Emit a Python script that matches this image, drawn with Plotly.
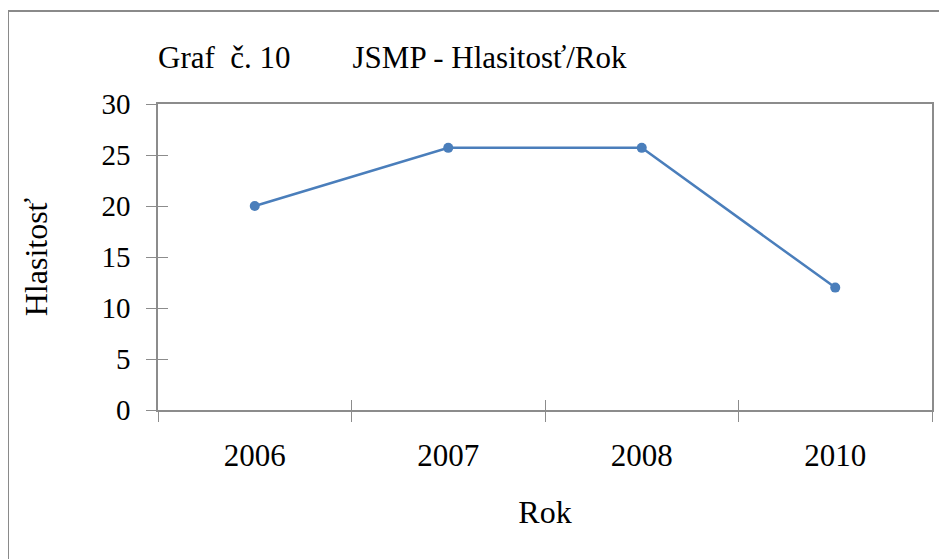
import plotly.graph_objects as go

years = ["2006", "2007", "2008", "2010"]
hlasitost = [20, 25.7, 25.7, 12]
y_ticks = [0, 5, 10, 15, 20, 25, 30]

FONT = "Liberation Serif, Times New Roman, serif"
AXIS_GRAY = "#8c8c8c"
LINE_BLUE = "#4a7ebb"

fig = go.Figure()
fig.add_trace(go.Scatter(
    x=years, y=hlasitost, mode="lines+markers",
    line=dict(color=LINE_BLUE, width=2.5),
    marker=dict(color=LINE_BLUE, size=10),
    showlegend=False,
))
# invisible duplicate to carry the inner half of the crossing ticks
fig.add_trace(go.Scatter(
    x=years, y=hlasitost, mode="lines", xaxis="x2", yaxis="y2",
    line=dict(color="rgba(0,0,0,0)", width=0), hoverinfo="skip",
    showlegend=False,
))

# plot area in page pixels: x 158..932, y 104..410 (page has 8px body margin)
fig.update_layout(
    width=947, height=559,
    margin=dict(l=150, r=23, t=96, b=157),
    paper_bgcolor="white", plot_bgcolor="white",
    font=dict(family=FONT, color="black"),
    title=dict(
        text="Graf\u00a0 č. 10\u00a0\u00a0\u00a0\u00a0\u00a0\u00a0\u00a0\u00a0JSMP - Hlasitosť/Rok",
        font=dict(family=FONT, size=31, color="black"),
        xref="paper", x=0, xanchor="left",
        yref="container", y=1 - 49 / 559, yanchor="middle",
    ),
    xaxis=dict(
        type="category", categoryarray=years, range=[-0.5, 3.5],
        tickson="boundaries", ticks="outside", ticklen=10, tickcolor=AXIS_GRAY,
        showline=True, linecolor=AXIS_GRAY, linewidth=1.5, mirror=True,
        showgrid=False, zeroline=False,
        tickfont=dict(family=FONT, size=31), ticklabelstandoff=17,
        title=dict(text="Rok", font=dict(family=FONT, size=32), standoff=29),
    ),
    yaxis=dict(
        range=[0, 30], tickvals=y_ticks, ticks="outside", ticklen=10,
        tickcolor=AXIS_GRAY, showline=True, linecolor=AXIS_GRAY, linewidth=1.5,
        mirror=True, showgrid=False, zeroline=False,
        tickfont=dict(family=FONT, size=29), ticklabelstandoff=10,
        title=dict(text="Hlasitosť", font=dict(family=FONT, size=32), standoff=44),
    ),
    xaxis2=dict(
        type="category", categoryarray=years, range=[-0.5, 3.5],
        overlaying="x", tickson="boundaries", ticks="inside", ticklen=10,
        tickcolor=AXIS_GRAY, showticklabels=False, showline=False,
        showgrid=False, zeroline=False,
    ),
    yaxis2=dict(
        range=[0, 30], tickvals=y_ticks, overlaying="y", side="left",
        ticks="inside", ticklen=10, tickcolor=AXIS_GRAY, showticklabels=False,
        showline=False, showgrid=False, zeroline=False,
    ),
    shapes=[dict(
        type="rect", xref="paper", yref="paper",
        x0=(8 - 158) / 774, x1=(960 - 158) / 774,
        y0=(410 - 575) / 306, y1=(410 - 11) / 306,
        line=dict(color="#8a8a8a", width=2), fillcolor="rgba(0,0,0,0)",
        layer="below",
    )],
)

fig.write_html("out.html")
